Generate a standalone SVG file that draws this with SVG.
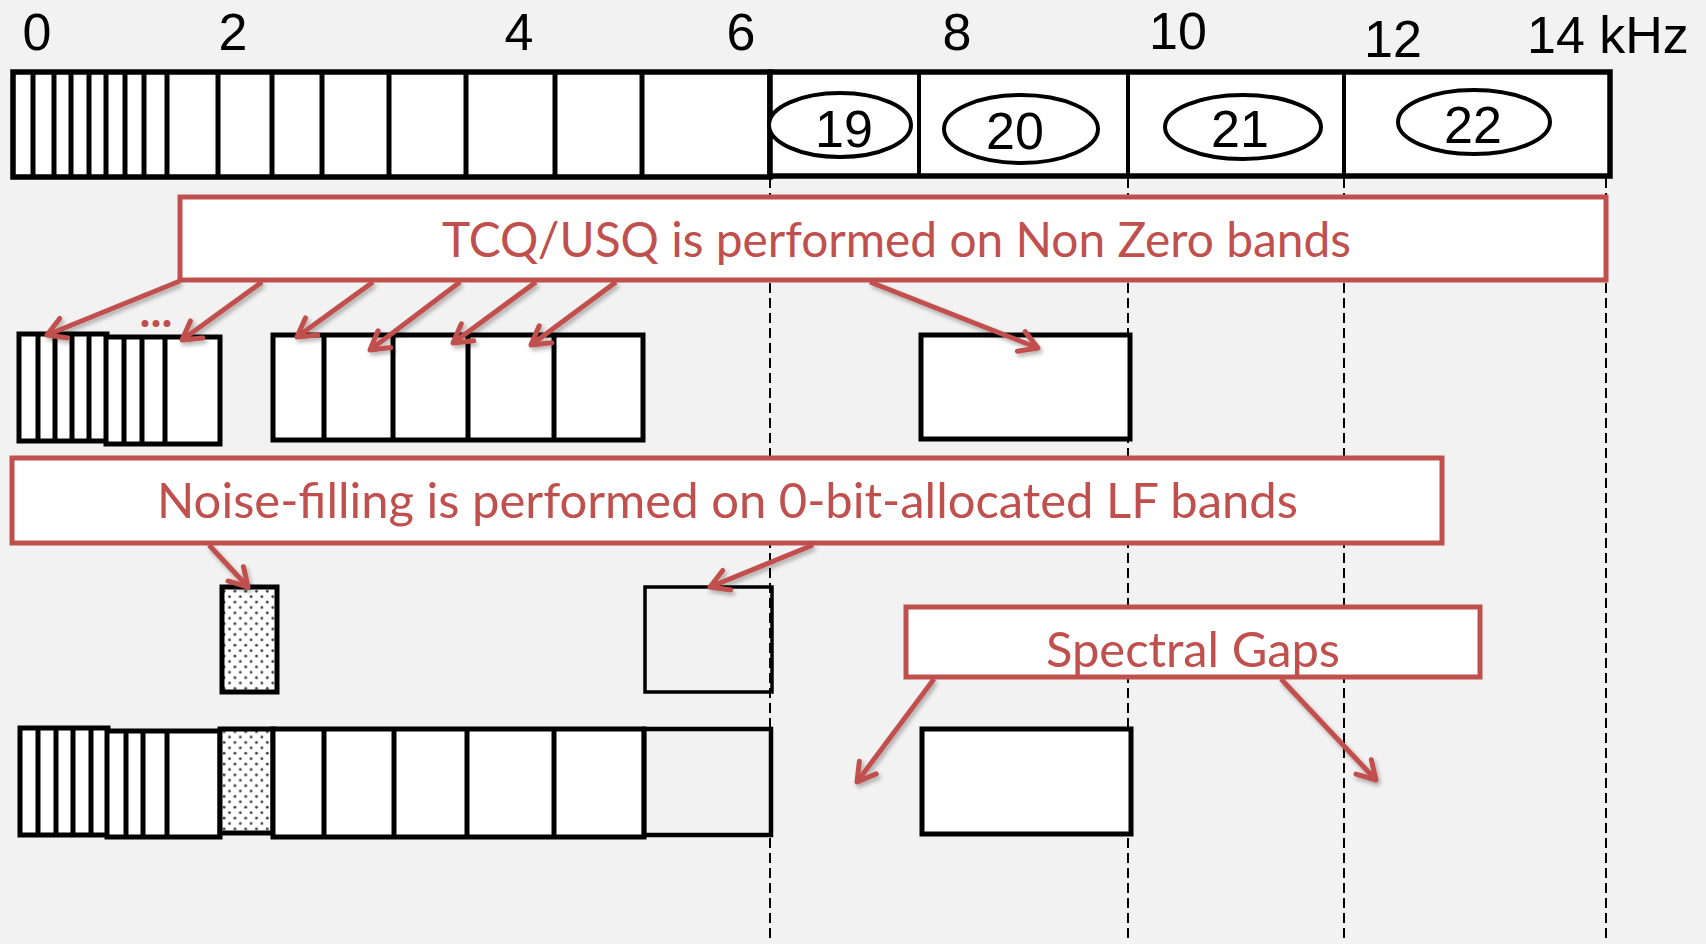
<svg xmlns="http://www.w3.org/2000/svg" width="1706" height="944" viewBox="0 0 1706 944">
<style>
.band{fill:#fff;stroke:#000;stroke-width:5}
.hollow{fill:none;stroke:#000;stroke-width:4.5}
.dv{stroke:#000;stroke-width:5}
.dvt{stroke:#000;stroke-width:4}
.dot{fill:url(#dots);stroke:#000;stroke-width:5}
.ell{fill:#fff;stroke:#000;stroke-width:4}
.callout{fill:#fff;stroke:#C0504D;stroke-width:5}
.ctext{font-family:Lato,"Open Sans",sans-serif;font-size:48px;fill:#C0504D}
.num{font-family:"Liberation Sans",Arial,sans-serif;font-size:52px;fill:#000;text-anchor:middle}
.dash{stroke:#000;stroke-width:2;stroke-dasharray:10 5;fill:none}
.arrow{stroke:#C0504D;stroke-width:5;fill:none;marker-end:url(#ah)}
</style>
<defs>
<pattern id="dots" patternUnits="userSpaceOnUse" width="10.8" height="10.8">
<rect width="10.8" height="10.8" fill="#fff"/>
<circle cx="2.7" cy="2.7" r="1.4" fill="#444"/>
<circle cx="8.1" cy="8.1" r="1.4" fill="#444"/>
</pattern>
<marker id="ah" markerUnits="userSpaceOnUse" viewBox="-22 -14 26 28" refX="0" refY="0" markerWidth="26" markerHeight="28" orient="auto" overflow="visible">
<path d="M-18,-10.5 L0,0 L-18,10.5" fill="none" stroke="#C0504D" stroke-width="5" stroke-linecap="round" stroke-linejoin="round"/>
</marker>
<filter id="sh" x="-20%" y="-20%" width="140%" height="140%">
<feDropShadow dx="2" dy="3" stdDeviation="2" flood-color="#000" flood-opacity="0.3"/>
</filter>
</defs>
<rect width="1706" height="944" fill="#F2F2F2"/>

<g id="grid-lines">
<line class="dash" x1="770" y1="178" x2="770" y2="940"/>
<line class="dash" x1="1128" y1="178" x2="1128" y2="940"/>
<line class="dash" x1="1344" y1="178" x2="1344" y2="940"/>
<line class="dash" x1="1606" y1="178" x2="1606" y2="940"/>
</g>

<g id="axis-labels">
<text class="num" x="37" y="50">0</text>
<text class="num" x="233" y="50">2</text>
<text class="num" x="519" y="50">4</text>
<text class="num" x="741" y="50">6</text>
<text class="num" x="957" y="50">8</text>
<text class="num" x="1178" y="49">10</text>
<text class="num" x="1393" y="57">12</text>
<text class="num" x="1527" y="53" style="text-anchor:start">14 kHz</text>
</g>

<g id="band-bar-low">
<rect class="band" x="13" y="72" width="757" height="105" style="stroke-width:5.5"/>
<g>
<line class="dv" x1="33" y1="72" x2="33" y2="177"/>
<line class="dv" x1="54" y1="72" x2="54" y2="177"/>
<line class="dv" x1="71" y1="72" x2="71" y2="177"/>
<line class="dv" x1="89" y1="72" x2="89" y2="177"/>
<line class="dv" x1="106" y1="72" x2="106" y2="177"/>
<line class="dv" x1="125" y1="72" x2="125" y2="177"/>
<line class="dv" x1="144" y1="72" x2="144" y2="177"/>
<line class="dv" x1="167" y1="72" x2="167" y2="177"/>
<line class="dv" x1="218" y1="72" x2="218" y2="177"/>
<line class="dv" x1="272" y1="72" x2="272" y2="177"/>
<line class="dv" x1="322" y1="72" x2="322" y2="177"/>
<line class="dv" x1="389" y1="72" x2="389" y2="177"/>
<line class="dv" x1="466" y1="72" x2="466" y2="177"/>
<line class="dv" x1="555" y1="72" x2="555" y2="177"/>
<line class="dv" x1="642" y1="72" x2="642" y2="177"/>
</g>
</g>

<g id="band-bar-high">
<rect class="band" x="770" y="72" width="840" height="104" style="stroke-width:5.5"/>
<line class="dvt" x1="919" y1="72" x2="919" y2="176"/>
<line class="dvt" x1="1128" y1="72" x2="1128" y2="176"/>
<line class="dvt" x1="1344" y1="72" x2="1344" y2="176"/>
</g>
<g id="band-19">
<ellipse class="ell" cx="840" cy="125" rx="71" ry="32"/>
<text class="num" x="844" y="147">19</text>
</g>
<g id="band-20">
<ellipse class="ell" cx="1021" cy="129" rx="77" ry="34"/>
<text class="num" x="1015" y="149">20</text>
</g>
<g id="band-21">
<ellipse class="ell" cx="1243" cy="127" rx="78" ry="32"/>
<text class="num" x="1240" y="147">21</text>
</g>
<g id="band-22">
<ellipse class="ell" cx="1474" cy="122" rx="76" ry="32"/>
<text class="num" x="1473" y="143">22</text>
</g>

<g id="row2-left">
<rect class="band" x="19" y="334" width="88" height="107"/>
<line class="dv" x1="38" y1="334" x2="38" y2="441"/>
<line class="dv" x1="55" y1="334" x2="55" y2="441"/>
<line class="dv" x1="72" y1="334" x2="72" y2="441"/>
<line class="dv" x1="89" y1="334" x2="89" y2="441"/>
<rect class="band" x="106" y="337" width="114" height="107"/>
<line class="dv" x1="124" y1="337" x2="124" y2="444"/>
<line class="dv" x1="142" y1="337" x2="142" y2="444"/>
<line class="dv" x1="165" y1="337" x2="165" y2="444"/>
</g>
<g id="row2-mid">
<rect class="band" x="273" y="335" width="370" height="105"/>
<line class="dv" x1="324" y1="335" x2="324" y2="440"/>
<line class="dv" x1="393" y1="335" x2="393" y2="440"/>
<line class="dv" x1="468" y1="335" x2="468" y2="440"/>
<line class="dv" x1="554" y1="335" x2="554" y2="440"/>
</g>
<g id="row2-band20">
<rect class="band" x="921" y="335" width="209" height="104"/>
</g>

<g id="row3-noise-band">
<rect class="dot" x="222" y="587" width="55" height="105"/>
</g>
<g id="row3-band6">
<rect class="hollow" x="645" y="587" width="127" height="105" style="stroke-width:3.5"/>
</g>

<g id="row4-low">
<rect class="band" x="20" y="728" width="88" height="107"/>
<line class="dv" x1="38" y1="728" x2="38" y2="835"/>
<line class="dv" x1="56" y1="728" x2="56" y2="835"/>
<line class="dv" x1="73" y1="728" x2="73" y2="835"/>
<line class="dv" x1="91" y1="728" x2="91" y2="835"/>
<rect class="band" x="107" y="731" width="113" height="106"/>
<line class="dv" x1="126" y1="731" x2="126" y2="837"/>
<line class="dv" x1="143" y1="731" x2="143" y2="837"/>
<line class="dv" x1="167" y1="731" x2="167" y2="837"/>
<rect class="dot" x="220" y="729" width="53" height="104"/>
<rect class="band" x="273" y="729" width="371" height="108"/>
<line class="dv" x1="324" y1="729" x2="324" y2="837"/>
<line class="dv" x1="394" y1="729" x2="394" y2="837"/>
<line class="dv" x1="467" y1="729" x2="467" y2="837"/>
<line class="dv" x1="554" y1="729" x2="554" y2="837"/>
<rect class="hollow" x="644" y="729" width="127" height="106"/>
</g>
<g id="row4-band20">
<rect class="band" x="922" y="729" width="209" height="105"/>
</g>

<g id="callout-tcq">
<rect class="callout" x="180" y="197" width="1426" height="83"/>
<text class="ctext" x="442" y="257" textLength="909" lengthAdjust="spacingAndGlyphs">TCQ/USQ is performed on Non Zero bands</text>
</g>
<g id="callout-noise">
<rect class="callout" x="12" y="458" width="1430" height="85"/>
<text class="ctext" x="157" y="518" textLength="1141" lengthAdjust="spacingAndGlyphs">Noise-filling is performed on 0-bit-allocated LF bands</text>
</g>
<g id="callout-gaps">
<rect class="callout" x="906" y="607" width="574" height="70"/>
<text class="ctext" x="1046" y="667" textLength="294" lengthAdjust="spacingAndGlyphs">Spectral Gaps</text>
</g>
<g id="ellipsis">
<text x="156" y="327" style="font-family:Lato,'Open Sans',sans-serif;font-weight:bold;font-size:46px;fill:#C0504D;text-anchor:middle">...</text>
</g>

<g id="connectors" filter="url(#sh)">
<line class="arrow" x1="180" y1="281" x2="47" y2="335"/>
<line class="arrow" x1="262" y1="282" x2="182" y2="340"/>
<line class="arrow" x1="373" y1="282" x2="297" y2="337"/>
<line class="arrow" x1="460" y1="282" x2="370" y2="350"/>
<line class="arrow" x1="536" y1="282" x2="453" y2="343"/>
<line class="arrow" x1="616" y1="282" x2="531" y2="345"/>
<line class="arrow" x1="870" y1="282" x2="1038" y2="348"/>
<line class="arrow" x1="209" y1="545" x2="248" y2="587"/>
<line class="arrow" x1="813" y1="545" x2="710" y2="587"/>
<line class="arrow" x1="934" y1="679" x2="857" y2="782"/>
<line class="arrow" x1="1281" y1="679" x2="1376" y2="780"/>
</g>
</svg>
